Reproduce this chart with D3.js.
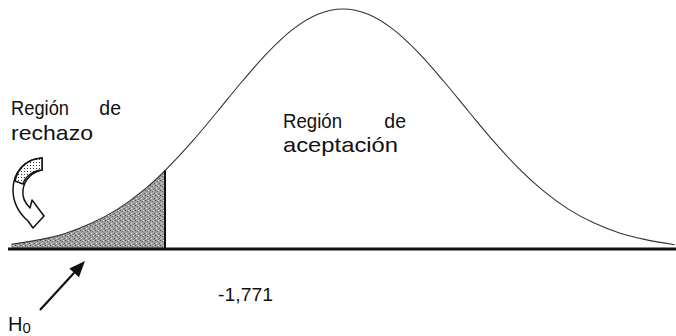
<!DOCTYPE html>
<html>
<head>
<meta charset="utf-8">
<script src="https://cdn.jsdelivr.net/npm/d3@7"></script>
<style>
  body { margin: 0; background: #fff; }
  svg { display: block; }
  text { font-family: "Liberation Sans", Arial, sans-serif; fill: #111; }
</style>
</head>
<body>
<div id="chart"></div>
<script>
// curve: position (in units where the cut is -1,771) and relative height
const curveX = [-3.3, -3.0, -2.75, -2.5, -2.25, -2.0, -1.771, -1.5, -1.25, -1.0, -0.75, -0.5, -0.25, 0,
                0.25, 0.5, 0.75, 1.0, 1.25, 1.5, 1.75, 2.0, 2.25, 2.5, 2.75, 3.0, 3.3];
const curveY = [0.02, 0.04, 0.067, 0.108, 0.164, 0.24, 0.327, 0.448, 0.573, 0.70, 0.818, 0.915, 0.978, 1,
                0.978, 0.915, 0.818, 0.70, 0.573, 0.448, 0.335, 0.24, 0.164, 0.108, 0.067, 0.04, 0.018];
const critical = -1.771;
const criticalLabel = "-1,771";
const rejectLabel = ["Región", "de", "rechazo"];
const acceptLabel = ["Región", "de", "aceptación"];

const width = 676, height = 336;
const base = 249;

const svg = d3.select("#chart").append("svg")
    .attr("width", width)
    .attr("height", height);

const x = d3.scaleLinear().domain([-3.4, 3.4]).range([1.3, 684.7]);
const y = d3.scaleLinear().domain([0, 1]).range([base, 9]);

const pts = curveX.map((v, i) => ({x: v, y: curveY[i]}));

// stipple texture for the shaded area
const defs = svg.append("defs");
const pat = defs.append("pattern")
    .attr("id", "stipple")
    .attr("width", 5).attr("height", 5)
    .attr("patternUnits", "userSpaceOnUse");
pat.append("rect").attr("width", 5).attr("height", 5).attr("fill", "#a2a2a2");
[[0, 0, "#444"], [2, 1, "#666"], [4, 3, "#555"], [1, 3, "#ddd"], [3, 4, "#777"], [3, 0, "#e4e4e4"]].forEach(p => {
    pat.append("rect").attr("x", p[0]).attr("y", p[1]).attr("width", 1).attr("height", 1).attr("fill", p[2]);
});

const dots = defs.append("pattern")
    .attr("id", "dots")
    .attr("width", 3).attr("height", 3)
    .attr("patternUnits", "userSpaceOnUse");
dots.append("rect").attr("width", 3).attr("height", 3).attr("fill", "#fff");
dots.append("rect").attr("width", 1).attr("height", 1).attr("fill", "#333");

// rejection area
const tail = pts.filter(d => d.x <= critical);
const area = d3.area()
    .x(d => x(d.x))
    .y0(base)
    .y1(d => y(d.y))
    .curve(d3.curveMonotoneX);
svg.append("path")
    .datum(tail)
    .attr("d", area)
    .attr("fill", "url(#stipple)");

// curve
const line = d3.line()
    .x(d => x(d.x))
    .y(d => y(d.y))
    .curve(d3.curveMonotoneX);
svg.append("path")
    .datum(pts)
    .attr("d", line)
    .attr("fill", "none")
    .attr("stroke", "#333")
    .attr("stroke-width", 1.1);

// critical value line
svg.append("line")
    .attr("x1", x(critical)).attr("x2", x(critical))
    .attr("y1", base).attr("y2", y(curveY[curveX.indexOf(critical)]))
    .attr("stroke", "#111")
    .attr("stroke-width", 2);

// baseline
svg.append("line")
    .attr("x1", 8).attr("x2", width)
    .attr("y1", base).attr("y2", base)
    .attr("stroke", "#111")
    .attr("stroke-width", 2.8);

// labels
const label = (txt, lx, ly, size, len, anchor) => {
    const t = svg.append("text")
        .attr("x", lx).attr("y", ly)
        .attr("text-anchor", anchor || "start")
        .style("font-size", size + "px")
        .text(txt);
    if (len) t.attr("textLength", len).attr("lengthAdjust", "spacingAndGlyphs");
    return t;
};
label(rejectLabel[0], 11, 115, 19.5, 58);
label(rejectLabel[1], 121, 115, 19.5, null, "end");
label(rejectLabel[2], 11, 140, 21, 82);

label(acceptLabel[0], 283, 128, 19.5, 59);
label(acceptLabel[1], 406, 128, 19.5, null, "end");
label(acceptLabel[2], 283, 152, 21, 115);

label(criticalLabel, 218, 301, 19, 55);

const h0 = svg.append("text").attr("x", 8).attr("y", 331).style("font-size", "20px");
h0.append("tspan").text("H");
h0.append("tspan").attr("dy", 2).style("font-size", "15px").text("0");

// arrow to H0 area
const ax0 = 40, ay0 = 310, ax1 = 85, ay1 = 261;
const ang = Math.atan2(ay1 - ay0, ax1 - ax0);
const hl = 16, hw = 6.5;
const bx = ax1 - hl * Math.cos(ang), by = ay1 - hl * Math.sin(ang);
svg.append("line")
    .attr("x1", ax0).attr("y1", ay0).attr("x2", bx).attr("y2", by)
    .attr("stroke", "#111").attr("stroke-width", 2.2);
svg.append("path")
    .attr("d", `M${ax1},${ay1} L${bx + hw * Math.sin(ang)},${by - hw * Math.cos(ang)} L${bx - hw * Math.sin(ang)},${by + hw * Math.cos(ang)} Z`)
    .attr("fill", "#111");

// curved block arrow
svg.append("path")
    .attr("d", "M42,158 C25,159 13,172 13,190 C13,203 20,214 28,221 L33,228 L44,216 L32,200 L30,208 C25,203 22,197 23,190 C24,180 32,172 42,170 Z")
    .attr("fill", "#fff")
    .attr("stroke", "#111")
    .attr("stroke-width", 1.5)
    .attr("stroke-linejoin", "round");
svg.append("path")
    .attr("d", "M42,158 C28,159 18,167 15,181 L23,184 C25,177 32,171 42,170 Z")
    .attr("fill", "url(#dots)")
    .attr("stroke", "#111")
    .attr("stroke-width", 1.5);
</script>
</body>
</html>
